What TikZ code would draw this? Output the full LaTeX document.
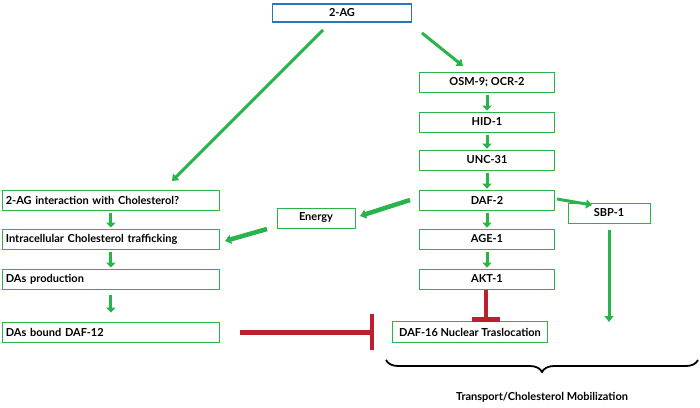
\documentclass[tikz,border=0pt]{standalone}
\usepackage{fontspec}
\setmainfont{Lato}
\usetikzlibrary{arrows.meta,decorations.pathreplacing}
\definecolor{gr}{RGB}{40,180,75}
\definecolor{rd}{RGB}{190,30,45}
\definecolor{bl}{RGB}{46,117,182}
\begin{document}
\begin{tikzpicture}[x=1pt,y=-1pt,
 bx/.style={draw=gr,line width=0.7pt,minimum height=20pt,font=\bfseries\fontsize{11}{13}\selectfont,inner sep=2pt},
 vbox/.style={bx,minimum width=135pt},
 lbox/.style={bx,minimum width=217pt,anchor=west,text width=210pt,align=left},
 ga/.style={draw=gr,line width=3pt,-{Triangle[length=6pt,width=9pt]}},
 sa/.style={draw=gr,line width=3pt,-{Triangle[length=5pt,width=9pt]},shorten <=3pt,shorten >=1pt},
 inh/.style={draw=rd,line width=4pt}]
\useasboundingbox (0,0) rectangle (700,407);
\node[bx,draw=bl,line width=1.2pt,minimum width=139pt,minimum height=18pt] (ag) at (342,13) {2-AG};
\node[vbox] (osm) at (487,82) {OSM-9; OCR-2};
\node[vbox] (hid) at (487,122) {HID-1};
\node[vbox] (unc) at (487,160) {UNC-31};
\node[vbox] (daf2) at (487,200) {DAF-2};
\node[vbox] (age) at (487,239) {AGE-1};
\node[vbox] (akt) at (487,279) {AKT-1};
\node[bx,minimum width=155pt,minimum height=21pt] (d16) at (470,332) {DAF-16 Nuclear Traslocation};
\node[bx,minimum width=82pt] (sbp) at (609,213) {SBP-1};
\node[bx,minimum width=78pt] (en) at (316,218) {Energy};
\node[lbox] (l1) at (2,200) {2-AG interaction with Cholesterol?};
\node[lbox] (l2) at (2,239) {Intracellular Cholesterol trafficking};
\node[lbox] (l3) at (2,279) {DAs production};
\node[lbox] (l4) at (2,332) {DAs bound DAF-12};
\coordinate (a1) at (422,33); \coordinate (a2) at (463,66);
\draw[ga] (a1) -- (a2);
\coordinate (b1) at (323,30); \coordinate (b2) at (172,181);
\draw[ga] (b1) -- (b2);
\draw[sa] (osm) -- (hid);
\draw[sa] (hid) -- (unc);
\draw[sa] (unc) -- (daf2);
\draw[sa] (daf2) -- (age);
\draw[sa] (age) -- (akt);
\draw[sa] (l1) -- (l2);
\draw[sa] (l2) -- (l3);
\draw[sa,shorten <=6pt,shorten >=9pt] (l3) -- (l4);
\coordinate (c1) at (410,200); \coordinate (c2) at (360,216);
\draw[ga,line width=4.5pt] (c1) -- (c2);
\coordinate (e1) at (267,229); \coordinate (e2) at (225,241);
\draw[ga,line width=4.5pt] (e1) -- (e2);
\coordinate (f1) at (557,199); \coordinate (f2) at (592,205);
\draw[ga] (f1) -- (f2);
\coordinate (g1) at (609,230); \coordinate (g2) at (609,322);
\draw[ga] (g1) -- (g2);
\coordinate (k1) at (486,290); \coordinate (k2) at (486,318);
\draw[inh] (k1) -- (k2);
\coordinate (m1) at (472,319); \coordinate (m2) at (500,319);
\draw[inh,line width=5pt] (m1) -- (m2);
\coordinate (h1) at (240,332); \coordinate (h2) at (372,332);
\draw[inh,line width=5pt] (h1) -- (h2);
\coordinate (t1) at (372,314); \coordinate (t2) at (372,350);
\draw[inh] (t1) -- (t2);
\coordinate (br1) at (698,360); \coordinate (br2) at (386,360);
\draw[line width=1.8pt,decorate,decoration={brace,amplitude=12pt}] (br1) -- (br2);
\node[font=\bfseries\fontsize{11}{13}\selectfont] (lab) at (542,397) {Transport/Cholesterol Mobilization};
\end{tikzpicture}
\end{document}
